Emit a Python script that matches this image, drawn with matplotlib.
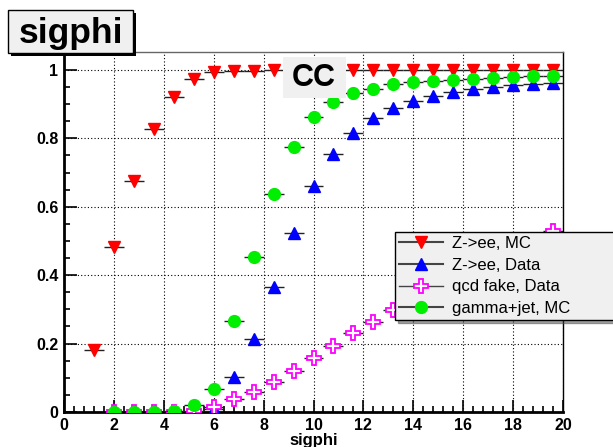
import numpy as np
import matplotlib.pyplot as plt
from matplotlib.patches import Rectangle
from matplotlib.lines import Line2D
from matplotlib.ticker import MultipleLocator

plt.rcParams['font.family'] = ['Liberation Sans', 'DejaVu Sans']

# bin centres (width 0.8) and efficiencies
x_zee_mc = [1.2, 2.0, 2.8, 3.6, 4.4, 5.2, 6.0, 6.8, 7.6, 8.4, 9.2, 10.0, 10.8,
            11.6, 12.4, 13.2, 14.0, 14.8, 15.6, 16.4, 17.2, 18.0, 18.8, 19.6]
zee_mc = [0.18, 0.483, 0.676, 0.828, 0.922, 0.975, 0.994, 0.996, 0.998, 0.999, 1.0, 1.0, 1.0,
          1.0, 1.0, 1.0, 1.0, 1.0, 1.0, 1.0, 1.0, 1.0, 1.0, 1.0]

x_zee_data = [3.6, 4.4, 5.2, 6.0, 6.8, 7.6, 8.4, 9.2, 10.0, 10.8, 11.6, 12.4,
              13.2, 14.0, 14.8, 15.6, 16.4, 17.2, 18.0, 18.8, 19.6]
zee_data = [0.0, 0.0, 0.0, 0.008, 0.103, 0.212, 0.366, 0.524, 0.661, 0.754, 0.817, 0.859,
            0.890, 0.909, 0.924, 0.937, 0.944, 0.951, 0.956, 0.960, 0.963]

x_qcd = [2.0, 2.8, 3.6, 4.4, 5.2, 6.0, 6.8, 7.6, 8.4, 9.2, 10.0, 10.8, 11.6, 12.4,
         13.2, 14.0, 14.8, 15.6, 16.4, 17.2, 18.0, 18.8, 19.6]
qcd = [0.0, 0.0, 0.0, 0.0, 0.004, 0.014, 0.039, 0.058, 0.087, 0.121, 0.158, 0.193, 0.230, 0.264,
       0.298, 0.33, 0.36, 0.39, 0.42, 0.45, 0.477, 0.503, 0.528]

x_gjet = [2.0, 2.8, 3.6, 4.4, 5.2, 6.0, 6.8, 7.6, 8.4, 9.2, 10.0, 10.8, 11.6, 12.4,
          13.2, 14.0, 14.8, 15.6, 16.4, 17.2, 18.0, 18.8, 19.6]
gjet = [0.0, 0.0, 0.0, 0.004, 0.020, 0.066, 0.265, 0.454, 0.636, 0.774, 0.862, 0.906, 0.932,
        0.945, 0.958, 0.964, 0.968, 0.972, 0.975, 0.978, 0.980, 0.982, 0.983]

labels = ['Z->ee, MC', 'Z->ee, Data', 'qcd fake, Data', 'gamma+jet, MC']
half_width = 0.4

fig = plt.figure(figsize=(6.13, 4.47), dpi=100)
ax = fig.add_axes([64 / 613, 1 - 412 / 447, 499 / 613, 360 / 447])

series = [
    (x_zee_mc, zee_mc, dict(marker='v', mfc='red', mec='red', ms=8)),
    (x_zee_data, zee_data, dict(marker='^', mfc='blue', mec='blue', ms=8)),
    (x_qcd, qcd, dict(marker='P', mfc='white', mec='magenta', ms=9.5, mew=1.3)),
    (x_gjet, gjet, dict(marker='o', mfc='#00ee00', mec='#00ee00', ms=8.5)),
]
handles = []
for i, (xs, ys, st) in enumerate(series):
    ax.errorbar(xs, ys, xerr=half_width, fmt='none', ecolor='#222222', elinewidth=1, zorder=3 + i)
    ax.plot(xs, ys, linestyle='none', marker=st['marker'], mfc=st['mfc'], mec=st['mec'],
            ms=st['ms'], mew=st.get('mew', 1), zorder=3.5 + i)
    handles.append(Line2D([], [], color='#444444', lw=1.5 if i != 2 else 1,
                          marker=st['marker'], mfc=st['mfc'], mec=st['mec'],
                          ms=st['ms'], mew=st.get('mew', 1)))

ax.set_xlim(0, 20)
ax.set_ylim(0, 1.0526)
ax.xaxis.set_major_locator(MultipleLocator(2))
ax.xaxis.set_minor_locator(MultipleLocator(0.4))
ax.yaxis.set_minor_locator(MultipleLocator(0.05))
ax.set_yticks([0, 0.2, 0.4, 0.6, 0.8, 1.0])
ax.set_yticklabels(['0', '0.2', '0.4', '0.6', '0.8', '1'])
ax.tick_params(which='both', direction='in', top=False, right=False, labelsize=11.5, width=1.2)
ax.tick_params(which='major', length=9, pad=4)
ax.tick_params(which='minor', length=4.5)
for lab in ax.get_xticklabels() + ax.get_yticklabels():
    lab.set_fontweight('bold')
ax.grid(True, which='major', color='black', linestyle=(0, (1, 2)), linewidth=0.8)
ax.set_axisbelow(True)
for side in ['left', 'bottom']:
    ax.spines[side].set_linewidth(2)
for side in ['top', 'right']:
    ax.spines[side].set_linewidth(1)
ax.spines['top'].set_color('#666666')
ax.set_xlabel('sigphi', fontsize=12, fontweight='bold', labelpad=0)

# "CC" label box
fig.patches.append(Rectangle((283 / 613, 1 - 98 / 447), 63 / 613, 41 / 447,
                             transform=fig.transFigure, facecolor='#f0f0f0',
                             edgecolor='none', zorder=10))
fig.text(314 / 613, 1 - 78 / 447, 'CC', fontsize=22, fontweight='bold',
         ha='center', va='center', zorder=11)

# title box with shadow
fig.patches.append(Rectangle((11 / 613, 1 - 56 / 447), 125 / 613, 43 / 447,
                             transform=fig.transFigure, facecolor='black',
                             edgecolor='none', zorder=9))
fig.patches.append(Rectangle((8 / 613, 1 - 53 / 447), 125 / 613, 43 / 447,
                             transform=fig.transFigure, facecolor='#f0f0f0',
                             edgecolor='black', lw=1, zorder=10))
fig.text(71 / 613, 1 - 33 / 447, 'sigphi', fontsize=25.5, fontweight='bold',
         ha='center', va='center', zorder=11)

leg = ax.legend(handles, labels, loc='upper left',
                bbox_to_anchor=(395 / 613, 1 - 322 / 447, 240 / 613, 90 / 447),
                bbox_transform=fig.transFigure, mode='expand', fontsize=12,
                frameon=True, fancybox=False, shadow=True, handlelength=2.6,
                borderpad=0.25, labelspacing=0.4, handletextpad=0.6, borderaxespad=0)
leg.get_frame().set_facecolor('#f0f0f0')
leg.get_frame().set_edgecolor('black')
leg.get_frame().set_alpha(1)
leg.set_zorder(20)

fig.savefig('out.png', dpi=100)
